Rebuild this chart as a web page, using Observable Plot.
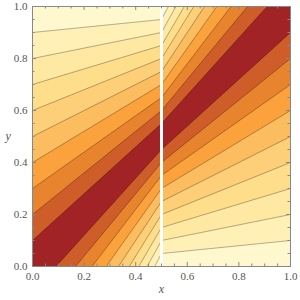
<!DOCTYPE html>
<html>
<head>
<meta charset="utf-8">
<script src="https://cdn.jsdelivr.net/npm/d3@7"></script>
<script src="https://cdn.jsdelivr.net/npm/@observablehq/plot@0.6"></script>
<style>
  html, body { margin: 0; padding: 0; background: #fff; }
</style>
</head>
<body>
<div id="chart"></div>
<script>
// Contour levels of f = 1 - |ratio - 1| and the band colours (lowest band first)
const levels = [0, 0.1, 0.2, 0.3, 0.4, 0.5, 0.6, 0.7, 0.8, 0.9];
const bandColors = ["#fff7cd", "#fff0b6", "#fee8a2", "#fedd8b", "#fdcf78", "#fcbc60",
                    "#fba23c", "#e8832e", "#cf5d2a", "#a12325"];
// Discontinuity at x = 0.5; left piece's contours radiate from (1,1), right piece's from (0,0)
const jump = 0.5;
const leftPivot = [1, 1];
const rightPivot = [0, 0];
// Frame ticks
const majorTicks = [0, 0.2, 0.4, 0.6, 0.8, 1.0];
const minorTicks = [0.05, 0.1, 0.15, 0.25, 0.3, 0.35, 0.45, 0.5, 0.55, 0.65, 0.7, 0.75, 0.85, 0.9, 0.95];

const fLeft = (x, y) => 1 - Math.abs((leftPivot[1] - y) / (leftPivot[0] - x) - 1);
const fRight = (x, y) => 1 - Math.abs((y - rightPivot[1]) / (x - rightPivot[0]) - 1);

const W = 300, H = 300, mL = 32, mR = 10, mT = 6, mB = 34;
const pw = W - mL - mR, ph = H - mT - mB;
const majLen = 4, minLen = 2.5;
const tickColor = "#888";
const lineStyle = {stroke: "#000", strokeOpacity: 0.5, strokeWidth: 0.6};

const chart = Plot.plot({
  width: W, height: H,
  marginLeft: mL, marginRight: mR, marginTop: mT, marginBottom: mB,
  style: {fontFamily: "Liberation Serif", fontSize: "11px", color: "#555", background: "#fff"},
  x: {domain: [0, 1]},
  y: {domain: [0, 1]},
  color: {type: "ordinal", domain: levels, range: bandColors},
  marks: [
    Plot.frame({fill: bandColors[0], stroke: null}),
    Plot.contour({value: fLeft, fill: "value", x1: 0, x2: jump, y1: 0, y2: 1, thresholds: levels, ...lineStyle}),
    Plot.contour({value: fRight, fill: "value", x1: jump, x2: 1, y1: 0, y2: 1, thresholds: levels, ...lineStyle}),
    Plot.ruleX([jump], {stroke: "#fff", strokeWidth: 3}),
    // inward frame ticks on all four sides
    Plot.ruleX(majorTicks, {insetTop: ph - majLen, stroke: tickColor}),
    Plot.ruleX(minorTicks, {insetTop: ph - minLen, stroke: tickColor}),
    Plot.ruleX(majorTicks, {insetBottom: ph - majLen, stroke: tickColor}),
    Plot.ruleX(minorTicks, {insetBottom: ph - minLen, stroke: tickColor}),
    Plot.ruleY(majorTicks, {insetRight: pw - majLen, stroke: tickColor}),
    Plot.ruleY(minorTicks, {insetRight: pw - minLen, stroke: tickColor}),
    Plot.ruleY(majorTicks, {insetLeft: pw - majLen, stroke: tickColor}),
    Plot.ruleY(minorTicks, {insetLeft: pw - minLen, stroke: tickColor}),
    Plot.frame({stroke: tickColor}),
    Plot.axisX({ticks: majorTicks, tickSize: 0, tickPadding: 6, tickFormat: d3.format(".1f"), label: null}),
    Plot.axisY({ticks: majorTicks, tickSize: 0, tickPadding: 5, tickFormat: d3.format(".1f"), label: null}),
    Plot.text(["x"], {text: d => d, frameAnchor: "bottom", dy: 26, fontStyle: "italic", fontSize: 12, fill: "#555"}),
    Plot.text(["y"], {text: d => d, frameAnchor: "left", dx: -27, fontStyle: "italic", fontSize: 12, fill: "#555"})
  ]
});
document.getElementById("chart").appendChild(chart);
</script>
</body>
</html>
